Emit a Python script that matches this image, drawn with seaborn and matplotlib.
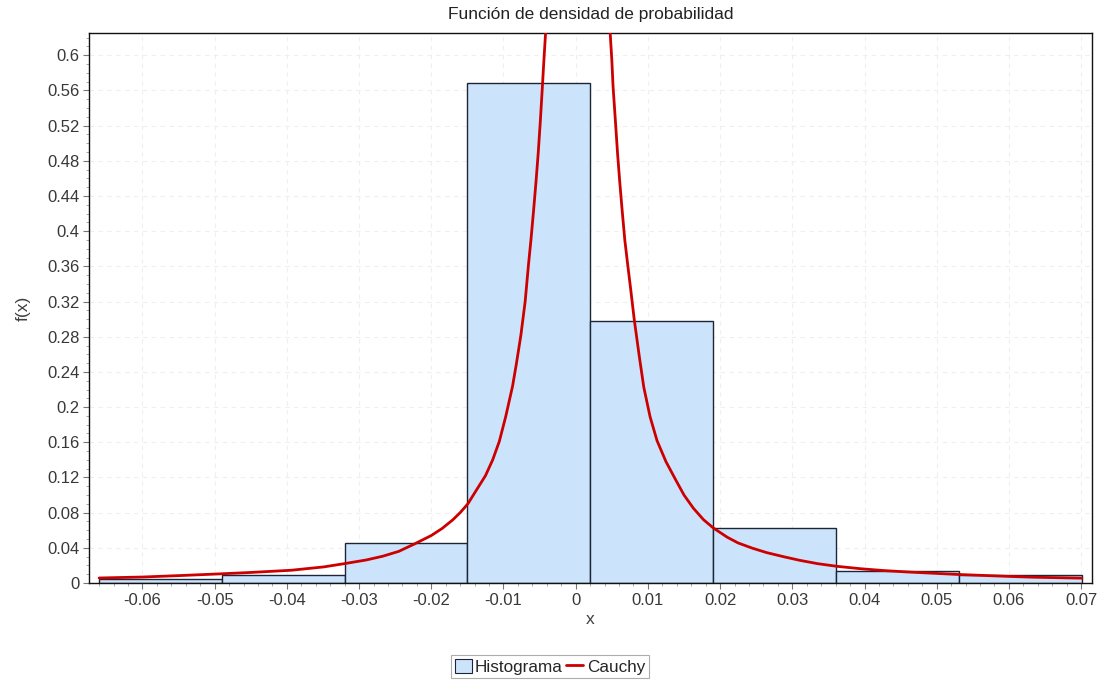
import matplotlib
matplotlib.use("Agg")
import matplotlib.pyplot as plt
from matplotlib.patches import Patch
from matplotlib.lines import Line2D
from matplotlib.ticker import MultipleLocator, FuncFormatter
import seaborn as sns
import pandas as pd

# ---- data ----
bin_edges = [-0.0660, -0.0490, -0.0320, -0.0150, 0.0020, 0.0190, 0.0360, 0.0531, 0.0701]
bar_heights = [0.0048, 0.0093, 0.0453, 0.5684, 0.2977, 0.0628, 0.0134, 0.0093]

curve_x = [-0.0660, -0.0600, -0.0550, -0.0495, -0.0450, -0.0394, -0.0349, -0.0319,
           -0.0290, -0.0267, -0.0245, -0.0223, -0.0200, -0.0185, -0.0170, -0.0160,
           -0.01494, -0.0138, -0.0125, -0.0115, -0.01058, -0.0097, -0.00874, -0.0082,
           -0.00759, -0.0070, -0.00654, -0.0062, -0.00585, -0.0055, -0.0052, -0.0049,
           -0.00461, -0.0044, -0.0041, -0.0037, 0.0003, 0.0043, 0.0047, 0.0050,
           0.00517, 0.0055, 0.0058, 0.0061, 0.00645, 0.0068, 0.0072, 0.0076,
           0.0081, 0.0088, 0.00943, 0.0103, 0.01127, 0.0125, 0.0138, 0.0150,
           0.0163, 0.0177, 0.01907, 0.0210, 0.0225, 0.0245, 0.02647, 0.0290,
           0.03108, 0.0335, 0.03616, 0.0395, 0.04258, 0.0460, 0.04950, 0.0530,
           0.05643, 0.0600, 0.06335, 0.0670, 0.0701]
curve_y = [0.0057, 0.0068, 0.0084, 0.0103, 0.0120, 0.0145, 0.0183, 0.0222,
           0.0262, 0.0305, 0.0360, 0.0445, 0.0540, 0.0620, 0.0720, 0.0800,
           0.0900, 0.1050, 0.1220, 0.1400, 0.1610, 0.1890, 0.2240, 0.2500,
           0.2820, 0.3200, 0.3620, 0.3900, 0.4220, 0.4560, 0.4880, 0.5250,
           0.5650, 0.5950, 0.6350, 0.7180, 1.5300, 0.7180, 0.6350, 0.5950,
           0.5650, 0.5250, 0.4880, 0.4560, 0.4220, 0.3900, 0.3620, 0.3350,
           0.3000, 0.2580, 0.2226, 0.1890, 0.1617, 0.1380, 0.1180, 0.1000,
           0.0850, 0.0720, 0.0625, 0.0520, 0.0455, 0.0395, 0.0345, 0.0295,
           0.0257, 0.0220, 0.0190, 0.0162, 0.0142, 0.0125, 0.0111, 0.0097,
           0.0086, 0.0075, 0.0066, 0.0060, 0.0055]

title = "Función de densidad de probabilidad"
x_label = "x"
y_label = "f(x)"
legend_labels = ["Histograma", "Cauchy"]

bar_centers = [(a + b) / 2 for a, b in zip(bin_edges[:-1], bin_edges[1:])]
hist_df = pd.DataFrame({"x": bar_centers, "h": bar_heights})
curve_df = pd.DataFrame({"x": curve_x, "y": curve_y})

sns.set_style("white")
plt.rcParams["font.family"] = ["Liberation Sans", "DejaVu Sans"]

fig = plt.figure(figsize=(11.02, 6.81), dpi=100)
ax = fig.add_axes([0.0808, 0.1439, 0.9101, 0.8072])

bar_color = "#cce4fb"
edge_color = "#1c2535"
red = "#cc0000"

sns.histplot(data=hist_df, x="x", weights="h", bins=bin_edges, stat="count",
             color=bar_color, edgecolor=edge_color, linewidth=1.0, alpha=1.0,
             ax=ax, zorder=2)
sns.lineplot(data=curve_df, x="x", y="y", color=red, linewidth=2.0, ax=ax,
             sort=False, zorder=3)

ax.set_xlim(-0.0674, 0.0715)
ax.set_ylim(0, 0.625)

ax.xaxis.set_major_locator(MultipleLocator(0.01))
ax.xaxis.set_minor_locator(MultipleLocator(0.002))
ax.yaxis.set_major_locator(MultipleLocator(0.04))
ax.yaxis.set_minor_locator(MultipleLocator(0.01))

def fmt(v, pos):
    v = round(v, 6)
    if abs(v) < 1e-9:
        return "0"
    return f"{v:g}"

ax.xaxis.set_major_formatter(FuncFormatter(fmt))
ax.yaxis.set_major_formatter(FuncFormatter(fmt))

ax.tick_params(axis="both", which="major", direction="out", length=4, width=0.8,
               color="#777777", labelcolor="#383838", labelsize=12, pad=3,
               bottom=True, left=True)
ax.tick_params(axis="both", which="minor", direction="out", length=2, width=0.6,
               color="#999999", bottom=True, left=True)

ax.grid(True, which="major", color="#efefef", linestyle=(0, (4, 4)), linewidth=0.8)
ax.set_axisbelow(True)

for s in ax.spines.values():
    s.set_color("#111111")
    s.set_linewidth(1.0)

ax.set_title(title, fontsize=12.5, color="#222222", pad=10)
ax.set_xlabel(x_label, fontsize=12.5, color="#404040", labelpad=3)
ax.set_ylabel(y_label, fontsize=12.5, color="#404040", labelpad=12)

handles = [Patch(facecolor=bar_color, edgecolor=edge_color, linewidth=0.8),
           Line2D([0], [0], color=red, linewidth=2)]
leg = fig.legend(handles, legend_labels, loc="center", bbox_to_anchor=(0.499, 0.021),
                 ncol=2, frameon=True, fancybox=False, fontsize=12.3,
                 handlelength=1.0, handleheight=0.9, handletextpad=0.2,
                 columnspacing=0.2, borderpad=0.2, borderaxespad=0)
leg.get_frame().set_edgecolor("#999999")
leg.get_frame().set_linewidth(0.8)

fig.savefig("out.png", dpi=100)
